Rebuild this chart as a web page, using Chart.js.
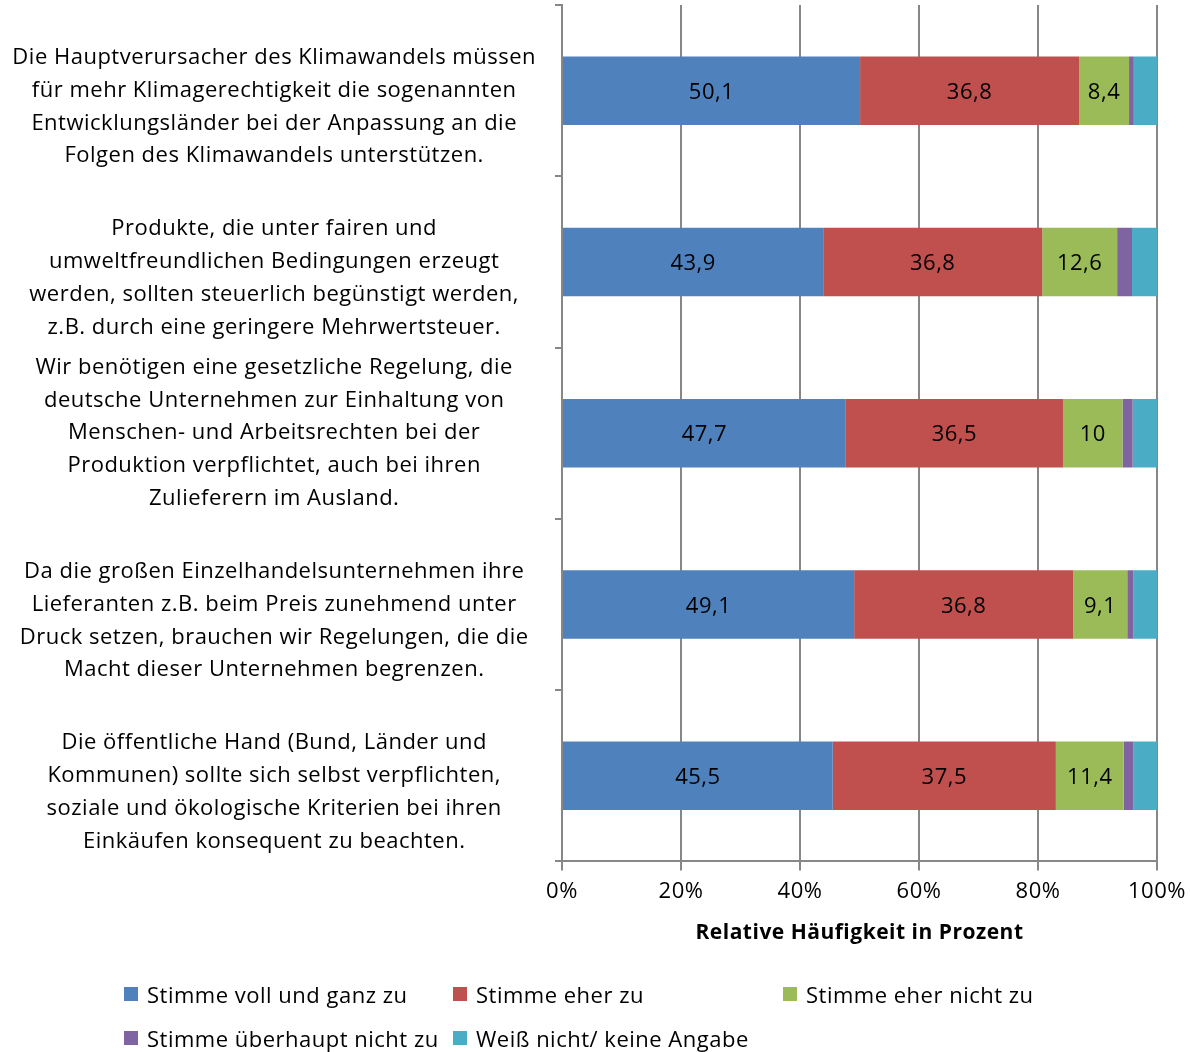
<!DOCTYPE html>
<html>
<head>
<meta charset="utf-8">
<script src="https://cdn.jsdelivr.net/npm/chart.js@4/dist/chart.umd.min.js"></script>
<style>
  body { margin: 0; background: #fff; }
  #wrap { position: relative; width: 1190px; height: 1052px; }
  #legend { position: absolute; left: 124px; top: 979px; width: 1000px; font-family: "Open Sans", sans-serif; font-size: 22px; letter-spacing: 0.5px; color: #000; }
  .item { position: absolute; white-space: nowrap; display: flex; align-items: center; }
  .box { width: 14px; height: 14px; margin-right: 9px; }
</style>
</head>
<body>
<div id="wrap">
  <canvas id="chart" width="1190" height="1052"></canvas>
  <div id="legend"></div>
</div>
<script>
const categories = [
  ["Die Hauptverursacher des Klimawandels müssen", "für mehr Klimagerechtigkeit die sogenannten", "Entwicklungsländer bei der Anpassung an die", "Folgen des Klimawandels unterstützen."],
  ["Produkte, die unter fairen und", "umweltfreundlichen Bedingungen erzeugt", "werden, sollten steuerlich begünstigt werden,", "z.B. durch eine geringere Mehrwertsteuer."],
  ["Wir benötigen eine gesetzliche Regelung, die", "deutsche Unternehmen zur Einhaltung von", "Menschen- und Arbeitsrechten bei der", "Produktion verpflichtet, auch bei ihren", "Zulieferern im Ausland."],
  ["Da die großen Einzelhandelsunternehmen ihre", "Lieferanten z.B. beim Preis zunehmend unter", "Druck setzen, brauchen wir Regelungen, die die", "Macht dieser Unternehmen begrenzen."],
  ["Die öffentliche Hand (Bund, Länder und", "Kommunen) sollte sich selbst verpflichten,", "soziale und ökologische Kriterien bei ihren", "Einkäufen konsequent zu beachten."]
];
const seriesNames = ["Stimme voll und ganz zu", "Stimme eher zu", "Stimme eher nicht zu", "Stimme überhaupt nicht zu", "Weiß nicht/ keine Angabe"];
const vollUndGanz = [50.1, 43.9, 47.7, 49.1, 45.5];
const eherZu = [36.8, 36.8, 36.5, 36.8, 37.5];
const eherNicht = [8.4, 12.6, 10, 9.1, 11.4];
const ueberhauptNicht = [0.8, 2.5, 1.7, 1.0, 1.6];
const weissNicht = [3.9, 4.2, 4.1, 4.0, 4.0];
const xTicks = [0, 20, 40, 60, 80, 100];
const colors = ["#4F81BD", "#C0504D", "#9BBB59", "#8064A2", "#4BACC6"];

const font = "'Open Sans', sans-serif";
// 4-line labels sit a half line lower in the original, pad them
const labels = categories.map(l => l.length < 5 ? [""].concat(l) : l);
const values = [vollUndGanz, eherZu, eherNicht, ueberhauptNicht, weissNicht];

// the original text is set a bit wider
const spacing = {
  id: 'spacing',
  beforeUpdate(chart) { chart.ctx.letterSpacing = "0.5px"; },
  beforeDraw(chart) { chart.ctx.letterSpacing = "0.5px"; }
};

const valueLabels = {
  id: 'valueLabels',
  afterDatasetsDraw(chart) {
    const ctx = chart.ctx;
    ctx.save();
    ctx.font = "22px " + font;
    ctx.fillStyle = "#000";
    ctx.textAlign = "center";
    ctx.textBaseline = "middle";
    for (let d = 0; d < 3; d++) {
      chart.getDatasetMeta(d).data.forEach((bar, i) => {
        const v = chart.data.datasets[d].data[i];
        const x = (bar.x + bar.base) / 2;
        ctx.fillText(String(v).replace('.', ','), x, bar.y + 2);
      });
    }
    ctx.restore();
  }
};

new Chart(document.getElementById("chart"), {
  type: 'bar',
  data: {
    labels: labels,
    datasets: values.map((v, i) => ({
      label: seriesNames[i],
      data: v,
      backgroundColor: colors[i],
      categoryPercentage: 1,
      barPercentage: 0.4
    }))
  },
  options: {
    indexAxis: 'y',
    responsive: false,
    animation: false,
    layout: { padding: { top: 5, right: 33, bottom: 102, left: 0 } },
    plugins: { legend: { display: false }, tooltip: { enabled: false } },
    scales: {
      x: {
        stacked: true,
        min: 0, max: 100,
        afterBuildTicks: s => { s.ticks = xTicks.map(v => ({ value: v })); },
        afterFit: s => { s.paddingLeft = 0; s.paddingRight = 0; },
        grid: { color: "#878787", lineWidth: 2, tickLength: 9 },
        border: { color: "#878787", width: 2 },
        ticks: { font: { family: font, size: 22 }, color: "#000", padding: 8, callback: v => v + "%" },
        title: { display: true, text: "Relative Häufigkeit in Prozent", font: { family: font, size: 21, weight: 'bold' }, color: "#000", padding: { top: 8 } }
      },
      y: {
        stacked: true,
        afterFit: s => { s.width = 562; s.paddingTop = 0; s.paddingBottom = 0; },
        grid: { offset: true, drawOnChartArea: false, color: "#878787", lineWidth: 2, tickLength: 7 },
        border: { color: "#878787", width: 2 },
        ticks: { autoSkip: false, font: { family: font, size: 22, lineHeight: 1.49 }, color: "#000", crossAlign: 'center', padding: 19 }
      }
    }
  },
  plugins: [spacing, valueLabels]
});

// legend laid out as in the original grid
const legend = document.getElementById("legend");
const cols = [0, 329, 659];
seriesNames.forEach((name, i) => {
  const el = document.createElement("div");
  el.className = "item";
  el.style.left = cols[i % 3] + "px";
  el.style.top = (Math.floor(i / 3) * 44) + "px";
  el.innerHTML = '<span class="box" style="background:' + colors[i] + '"></span>' + name;
  legend.appendChild(el);
});
</script>
</body>
</html>
